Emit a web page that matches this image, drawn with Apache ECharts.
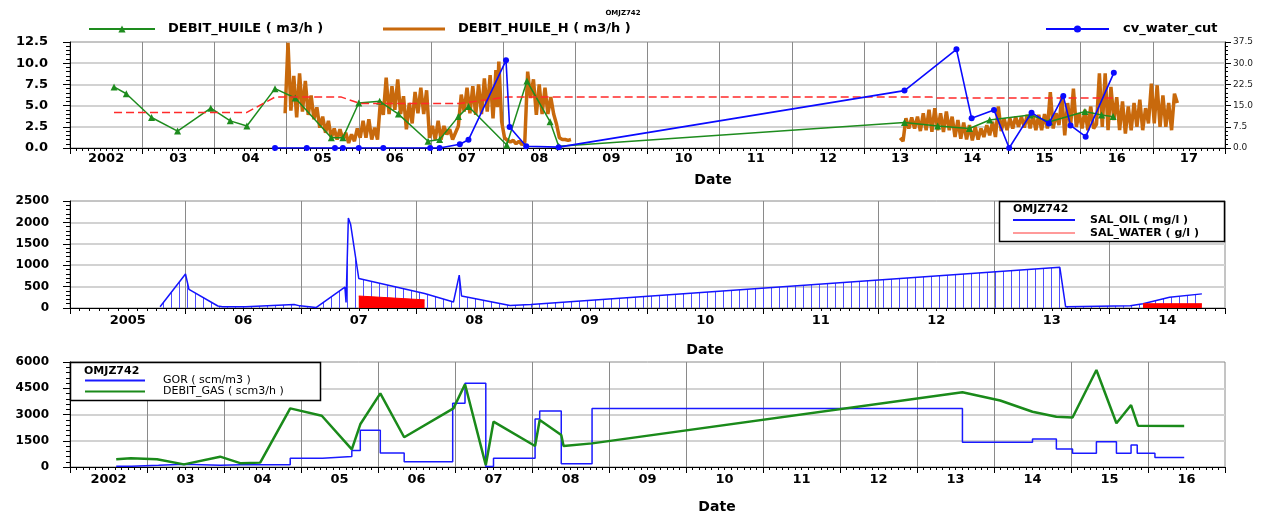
<!DOCTYPE html>
<html><head><meta charset="utf-8">
<script src="https://cdn.jsdelivr.net/npm/echarts@6/dist/echarts.min.js"></script>
<style>html,body{margin:0;padding:0;background:#fff}#c{width:1264px;height:516px}</style>
</head><body><div id="c"></div>
<script>
const FONT = 'DejaVu Sans';

// ---------- Chart 1 ----------
const yearLabels1 = ['2002','03','04','05','06','07','08','09','10','11','12','13','14','15','16','17'];
const debitHuile = [[2002.61,7.2],[2002.78,6.4],[2003.13,3.6],[2003.49,2.0],[2003.95,4.7],[2004.22,3.2],[2004.45,2.6],[2004.84,7.0],[2005.12,5.9],[2005.62,1.2],[2005.78,1.2],[2006.00,5.3],[2006.29,5.5],[2006.55,4.0],[2006.96,0.8],[2007.12,1.0],[2007.38,3.7],[2007.52,4.9],[2008.05,0.35],[2008.33,7.9],[2008.65,3.1],[2008.77,0.2],[2013.56,3.0],[2014.02,2.6],[2014.46,2.3],[2014.74,3.3],[2015.30,3.9],[2015.57,3.1],[2016.06,4.3],[2016.29,3.9],[2016.45,3.7]];
const debitHuileH = [[2004.98,4.1],[2005.02,12.4],[2005.06,4.4],[2005.10,8.5],[2005.14,3.6],[2005.18,8.8],[2005.22,4.3],[2005.26,7.9],[2005.30,3.9],[2005.34,6.2],[2005.38,3.4],[2005.42,4.8],[2005.46,2.4],[2005.50,3.7],[2005.54,1.8],[2005.58,3.2],[2005.62,1.2],[2005.66,2.3],[2005.70,1.0],[2005.74,2.2],[2005.78,1.0],[2005.82,1.8],[2005.86,0.6],[2005.90,1.6],[2005.94,0.8],[2005.98,2.3],[2006.02,1.2],[2006.06,3.2],[2006.10,1.2],[2006.14,3.4],[2006.18,1.0],[2006.22,2.4],[2006.26,1.0],[2006.30,5.5],[2006.34,3.9],[2006.38,8.3],[2006.42,4.0],[2006.46,7.3],[2006.50,4.5],[2006.54,8.1],[2006.58,4.0],[2006.62,6.1],[2006.66,2.2],[2006.70,5.3],[2006.74,2.9],[2006.78,6.6],[2006.82,4.1],[2006.86,7.1],[2006.90,4.0],[2006.94,6.8],[2006.98,1.2],[2007.02,2.6],[2007.06,1.0],[2007.10,3.2],[2007.14,1.0],[2007.18,2.6],[2007.22,1.6],[2007.26,2.2],[2007.30,1.0],[2007.34,1.8],[2007.38,2.6],[2007.42,6.3],[2007.46,4.3],[2007.50,7.1],[2007.54,4.1],[2007.58,7.3],[2007.62,3.9],[2007.66,7.5],[2007.70,4.0],[2007.74,8.2],[2007.78,4.3],[2007.82,8.6],[2007.86,3.5],[2007.90,9.2],[2007.92,4.8],[2007.94,10.2],[2007.98,3.1],[2008.02,1.2],[2008.06,0.9],[2008.10,0.7],[2008.14,0.9],[2008.18,0.5],[2008.22,0.8],[2008.26,0.4],[2008.30,0.7],[2008.34,9.0],[2008.38,5.9],[2008.42,8.1],[2008.46,3.9],[2008.50,7.5],[2008.54,4.0],[2008.58,7.1],[2008.62,4.0],[2008.66,6.0],[2008.70,4.0],[2008.74,2.8],[2008.78,1.2],[2008.82,1.0],[2008.86,1.0],[2008.90,0.9],[2008.94,1.0],
[2011.0,null],
[2013.50,1.2],[2013.54,0.8],[2013.58,3.5],[2013.62,2.3],[2013.66,3.6],[2013.70,2.3],[2013.74,3.7],[2013.78,2.0],[2013.82,4.1],[2013.86,2.1],[2013.90,4.5],[2013.94,1.9],[2013.98,4.7],[2014.02,2.1],[2014.06,4.1],[2014.10,1.9],[2014.14,4.3],[2014.18,2.1],[2014.22,3.7],[2014.26,1.3],[2014.30,3.3],[2014.34,1.1],[2014.38,3.0],[2014.42,1.0],[2014.46,2.7],[2014.50,0.9],[2014.54,2.5],[2014.58,1.0],[2014.62,2.3],[2014.66,1.3],[2014.70,2.7],[2014.74,1.5],[2014.78,3.1],[2014.82,1.3],[2014.86,4.9],[2014.90,2.0],[2014.94,3.5],[2014.98,2.1],[2015.02,3.5],[2015.06,2.3],[2015.10,3.7],[2015.14,2.5],[2015.18,3.7],[2015.22,2.4],[2015.26,3.9],[2015.30,2.3],[2015.34,3.9],[2015.38,2.1],[2015.42,3.9],[2015.46,2.1],[2015.50,4.0],[2015.54,2.3],[2015.58,6.6],[2015.62,2.3],[2015.66,4.1],[2015.70,2.7],[2015.74,6.1],[2015.78,1.5],[2015.82,5.3],[2015.86,2.5],[2015.90,7.0],[2015.94,2.5],[2015.98,4.1],[2016.02,2.3],[2016.06,4.5],[2016.10,2.1],[2016.14,4.9],[2016.18,2.3],[2016.22,2.8],[2016.26,8.8],[2016.30,2.5],[2016.34,8.8],[2016.38,2.1],[2016.42,7.2],[2016.46,3.3],[2016.50,6.0],[2016.54,2.1],[2016.58,5.5],[2016.62,1.7],[2016.66,4.9],[2016.70,2.1],[2016.74,5.3],[2016.78,2.5],[2016.82,5.7],[2016.86,2.1],[2016.90,4.7],[2016.94,2.9],[2016.98,7.6],[2017.02,2.9],[2017.06,7.4],[2017.10,2.5],[2017.14,6.2],[2017.18,2.5],[2017.22,5.3],[2017.26,2.1],[2017.30,6.4],[2017.34,5.3]];
const huileRef = [[2002.61,4.2],[2004.45,4.2],[2004.84,6.0],[2005.76,6.0],[2006.02,5.25],[2007.40,5.25],[2008.04,6.0],[2013.94,6.0],[2014.0,5.9],[2016.45,5.9]];
const waterCut = [[2004.84,0],[2005.28,0],[2005.67,0],[2005.78,0],[2006.00,0],[2006.34,0],[2006.99,0],[2007.12,0],[2007.40,1.3],[2007.52,2.9],[2008.04,31],[2008.09,7.4],[2008.32,0.6],[2008.77,0.3],[2013.56,20.3],[2014.28,34.9],[2014.49,10.5],[2014.80,13.4],[2015.01,0],[2015.32,12.5],[2015.56,8.7],[2015.76,18.4],[2015.86,8.0],[2016.07,4.0],[2016.46,26.6]];

// ---------- Chart 2 ----------
const yearLabels2 = ['2005','06','07','08','09','10','11','12','13','14'];
const salOil = [[2005.78,30],[2006.00,795],[2006.03,437],[2006.28,47],[2006.32,30],[2006.52,30],[2006.85,70],[2006.94,80],[2006.99,50],[2007.13,10],[2007.38,490],[2007.39,130],[2007.41,2100],[2007.43,1950],[2007.50,690],[2008.07,340],[2008.32,140],[2008.37,770],[2008.39,280],[2008.81,60],[2008.99,80],[2013.57,950],[2013.62,30],[2014.18,50],[2014.29,100],[2014.52,250],[2014.80,330]];
const salWater = [[2007.50,280],[2008.07,190],[2011.0,null],[2014.29,100],[2014.80,100]];

// ---------- Chart 3 ----------
const yearLabels3 = ['2002','03','04','05','06','07','08','09','10','11','12','13','14','15','16'];
const gor = [[2002.60,40],[2002.80,100],[2003.15,160],[2003.48,100],[2003.95,130],[2004.22,130],[2004.86,500],[2005.28,600],[2005.66,950],[2005.77,2100],[2006.03,800],[2006.34,300],[2006.97,3650],[2007.13,4780],[2007.40,30],[2007.50,500],[2008.04,2750],[2008.10,3200],[2008.38,180],[2008.78,3350],[2013.59,1410],[2014.50,1600],[2014.81,1030],[2015.02,780],[2015.33,1450],[2015.59,780],[2015.78,1260],[2015.86,780],[2016.09,550],[2016.47,550]];
const debitGas = [[2002.60,440],[2002.79,500],[2003.13,440],[2003.48,150],[2003.95,590],[2004.22,210],[2004.47,250],[2004.86,3350],[2005.27,2930],[2005.66,1010],[2005.77,2440],[2006.03,4210],[2006.34,1700],[2006.98,3350],[2007.13,4730],[2007.40,110],[2007.50,2590],[2008.04,1200],[2008.10,2690],[2008.38,1830],[2008.41,1200],[2008.78,1350],[2013.59,4270],[2014.08,3800],[2014.50,3160],[2014.81,2870],[2015.02,2830],[2015.33,5540],[2015.59,2500],[2015.78,3540],[2015.87,2360],[2016.47,2350]];

// hatch pattern for SAL_OIL area
const hatch = document.createElement('canvas');
hatch.width = 8; hatch.height = 8;
const hc = hatch.getContext('2d');
hc.fillStyle = '#4f4fff'; hc.fillRect(3, 0, 1, 8);

function xVal(gi, min, max) {
  return {type:'value', gridIndex:gi, min:min, max:max, interval:1, position:'bottom',
    axisLine:{show:true, onZero:false, lineStyle:{color:'#000', width:1}},
    axisTick:{show:true, length:6, lineStyle:{color:'#000'}},
    minorTick:{show:true, splitNumber:12, length:3, lineStyle:{color:'#000'}},
    axisLabel:{show:false},
    splitLine:{show:true, showMinLine:false, showMaxLine:false, lineStyle:{color:'#8a8a8a', width:1}}
  };
}
function xCat(gi, labels, margin) {
  return {type:'category', gridIndex:gi, data:labels, boundaryGap:true, position:'bottom',
    axisLine:{show:false, onZero:false}, axisTick:{show:false}, splitLine:{show:false},
    axisLabel:{interval:0, margin:margin, fontFamily:FONT, fontWeight:'bold', fontSize:13, color:'#000'}};
}
function yVal(gi, max, interval, decimals, margin, fs, minorSplit) {
  return {type:'value', gridIndex:gi, position:'left', min:0, max:max, interval:interval,
    axisLine:{show:true, lineStyle:{color:'#000'}},
    axisTick:{show:true, length:7, lineStyle:{color:'#000'}},
    minorTick:{show:true, splitNumber:minorSplit, length:4, lineStyle:{color:'#000'}},
    axisLabel:{margin:margin, formatter:function(v){return v.toFixed(decimals);}, fontFamily:FONT, fontWeight:'bold', fontSize:fs, color:'#000'},
    splitLine:{show:true, showMinLine:false, showMaxLine:false, lineStyle:{color:'#d2d2d2', width:2}}};
}

const legendText = {fontFamily:FONT, fontWeight:'bold', fontSize:13, color:'#000', lineHeight:16};

const chart = echarts.init(document.getElementById('c'));
chart.setOption({
  animation:false,
  backgroundColor:'#fff',
  grid:[
    {left:70, top:42, width:1155, height:106, show:true, borderColor:'#8a8a8a', borderWidth:1},
    {left:70, top:201, width:1155, height:107, show:true, borderColor:'#8a8a8a', borderWidth:1},
    {left:70, top:362, width:1155, height:105, show:true, borderColor:'#8a8a8a', borderWidth:1}
  ],
  xAxis:[
    xVal(0, 2002, 2018), xCat(0, yearLabels1, 4),
    xVal(1, 2005, 2015), xCat(1, yearLabels2, 6),
    xVal(2, 2002, 2017), xCat(2, yearLabels3, 6)
  ],
  yAxis:[
    yVal(0, 12.5, 2.5, 1, 22, 13, 5),
    {type:'value', gridIndex:0, position:'right', min:0, max:37.5, interval:7.5,
      axisLine:{show:true, lineStyle:{color:'#000'}},
      axisTick:{show:true, length:6, lineStyle:{color:'#000'}},
      minorTick:{show:true, splitNumber:5, length:3, lineStyle:{color:'#000'}},
      axisLabel:{margin:8, formatter:function(v){return v.toFixed(1);}, fontFamily:FONT, fontSize:9, color:'#222'},
      splitLine:{show:false}},
    yVal(1, 2500, 500, 0, 21, 12, 5),
    yVal(2, 6000, 1500, 0, 21, 12, 5)
  ],
  legend:[
    {data:['DEBIT_HUILE ( m3/h )'], left:88, top:21, padding:0, itemWidth:66, itemHeight:9, z:10,
      textStyle:Object.assign({padding:[0,0,0,8]}, legendText)},
    {data:[{name:'DEBIT_HUILE_H ( m3/h )', icon:'rect'}], left:383, top:21, padding:0, itemWidth:62, itemHeight:3, z:10,
      textStyle:Object.assign({padding:[0,0,0,8]}, legendText)},
    {data:['cv_water_cut'], left:1045, top:21, padding:0, itemWidth:63, itemHeight:9, z:10,
      textStyle:Object.assign({padding:[0,0,0,9]}, legendText)},
    {data:[{name:'SAL_OIL ( mg/l )', icon:'rect'}, {name:'SAL_WATER ( g/l )', icon:'rect', itemStyle:{color:'#ff9a9a'}}],
      orient:'vertical', left:1013, top:214, padding:0, itemWidth:62, itemHeight:2, itemGap:1, z:10,
      textStyle:{fontFamily:FONT, fontWeight:'bold', fontSize:11, color:'#000', lineHeight:12, padding:[0,0,0,10]}},
    {data:[{name:'GOR ( scm/m3 )', icon:'rect'},{name:'DEBIT_GAS ( scm3/h )', icon:'rect'}],
      orient:'vertical', left:85, top:375, padding:0, itemWidth:60, itemHeight:2, itemGap:0, z:10,
      textStyle:{fontFamily:FONT, fontSize:11, color:'#000', lineHeight:11, padding:[0,0,0,13]}}
  ],
  graphic:[
    {type:'text', x:623, y:13, style:{text:'OMJZ742', font:'bold 7px "DejaVu Sans"', fill:'#000', align:'center', verticalAlign:'middle'}},
    {type:'text', x:713, y:180, style:{text:'Date', font:'bold 14px "DejaVu Sans"', fill:'#000', align:'center', verticalAlign:'middle'}},
    {type:'text', x:705, y:350, style:{text:'Date', font:'bold 14px "DejaVu Sans"', fill:'#000', align:'center', verticalAlign:'middle'}},
    {type:'text', x:717, y:507, style:{text:'Date', font:'bold 14px "DejaVu Sans"', fill:'#000', align:'center', verticalAlign:'middle'}},
    {type:'rect', z:8, shape:{x:999.5, y:201.5, width:225, height:40}, style:{fill:'#fff', stroke:'#000', lineWidth:1.5}},
    {type:'text', z:9, x:1013, y:209, style:{text:'OMJZ742', font:'bold 11px "DejaVu Sans"', fill:'#000', align:'left', verticalAlign:'middle'}},
    {type:'rect', z:8, shape:{x:70.5, y:362.5, width:250, height:38}, style:{fill:'#fff', stroke:'#000', lineWidth:1.5}},
    {type:'text', z:9, x:84, y:371, style:{text:'OMJZ742', font:'bold 11px "DejaVu Sans"', fill:'#000', align:'left', verticalAlign:'middle'}}
  ],
  series:[
    {name:'DEBIT_HUILE_H ( m3/h )', type:'line', xAxisIndex:0, yAxisIndex:0, data:debitHuileH, symbol:'none',
      connectNulls:false, color:'#c8690c', lineStyle:{color:'#c8690c', width:3.5}, z:2},
    {name:'DEBIT_HUILE ( m3/h )', type:'line', xAxisIndex:0, yAxisIndex:0, data:debitHuile, symbol:'triangle', symbolSize:7,
      color:'#1e8c1e', lineStyle:{color:'#1e8c1e', width:1.5}, itemStyle:{color:'#1e8c1e'}, z:3},
    {name:'ref', type:'line', xAxisIndex:0, yAxisIndex:0, data:huileRef, symbol:'none',
      lineStyle:{color:'#ff2a2a', width:1.5, type:[8,4]}, z:4},
    {name:'cv_water_cut', type:'line', xAxisIndex:0, yAxisIndex:1, data:waterCut, symbol:'circle', symbolSize:6,
      color:'#0a0aff', lineStyle:{color:'#0a0aff', width:1.6}, itemStyle:{color:'#0a0aff'}, z:5},
    {name:'SAL_OIL ( mg/l )', type:'line', xAxisIndex:2, yAxisIndex:2, data:salOil, symbol:'none',
      color:'#1414ff', lineStyle:{color:'#1414ff', width:1.5}, areaStyle:{color:{image:hatch, repeat:'repeat'}, opacity:1}, z:2},
    {name:'SAL_WATER ( g/l )', type:'line', xAxisIndex:2, yAxisIndex:2, data:salWater, symbol:'none', connectNulls:false,
      color:'#ff0000', lineStyle:{color:'#ff0000', width:1}, areaStyle:{color:'#ff0000', opacity:1}, z:3},
    {name:'GOR ( scm/m3 )', type:'line', step:'end', xAxisIndex:4, yAxisIndex:3, data:gor, symbol:'none',
      color:'#1a1aff', lineStyle:{color:'#1a1aff', width:1.5}, z:2},
    {name:'DEBIT_GAS ( scm3/h )', type:'line', xAxisIndex:4, yAxisIndex:3, data:debitGas, symbol:'none',
      color:'#1a8a1a', lineStyle:{color:'#1a8a1a', width:2.5}, z:3}
  ]
});
</script></body></html>
